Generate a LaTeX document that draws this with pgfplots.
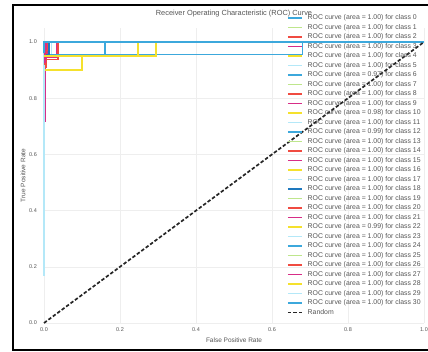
\documentclass[border=0pt]{standalone}
\usepackage{pgfplots}
\pgfplotsset{compat=1.18}
\usepackage{fontspec}
\setmainfont{Liberation Sans}
\definecolor{cA}{RGB}{60,168,220}
\definecolor{cB}{RGB}{190,230,140}
\definecolor{cC}{RGB}{240,75,65}
\definecolor{cD}{RGB}{215,45,135}
\definecolor{cE}{RGB}{245,225,45}
\definecolor{cF}{RGB}{180,232,248}
\definecolor{cG}{RGB}{30,120,190}
\definecolor{txt}{RGB}{85,85,85}
\definecolor{gridc}{RGB}{238,238,238}
\begin{document}
\begin{tikzpicture}[x=1pt,y=1pt]
\useasboundingbox (0,0) rectangle (428,351);
\draw[line width=2pt] (12.5,1.5) rectangle (445,345.5);
\begin{axis}[
  at={(44pt,28pt)}, anchor=south west,
  scale only axis, width=380pt, height=295.05pt,
  xmin=0, xmax=1, ymin=0, ymax=1.05,
  clip=false,
  axis line style={draw=none},
  major tick style={draw=none},
  xtick={0,0.2,0.4,0.6,0.8,1.0},
  ytick={0,0.2,0.4,0.6,0.8,1.0},
  xticklabels={0.0,0.2,0.4,0.6,0.8,1.0},
  yticklabels={0.0,0.2,0.4,0.6,0.8,1.0},
  grid=major, major grid style={gridc, line width=0.5pt},
  tick label style={font=\fontsize{5.5}{6}\selectfont, text=txt},
  every x tick label/.append style={anchor=center, yshift=-7pt},
  every y tick label/.append style={anchor=center, xshift=-11pt},
  title={Receiver Operating Characteristic (ROC) Curve},
  title style={font=\fontsize{7.4}{8}\selectfont, text=txt, at={(rel axis cs:0.5,1)}, anchor=center, yshift=8pt},
  xlabel={False Positive Rate},
  xlabel style={font=\fontsize{6.5}{7}\selectfont, text=txt, at={(rel axis cs:0.5,0)}, anchor=center, yshift=-17pt},
  ylabel={True Positive Rate},
  ylabel style={font=\fontsize{6.5}{7}\selectfont, text=txt, at={(rel axis cs:0,0.5)}, anchor=center, yshift=21pt},
  no markers,
  every axis plot/.append style={line width=1.7pt},
  legend style={at={(0.6395,1.0498)}, anchor=north west, draw=none, fill=none,
    inner sep=0pt, outer sep=0pt, row sep=0pt,
    font=\fontsize{6.9}{7}\selectfont, text=txt,
    nodes={inner sep=0pt, text height=6.5pt, text depth=3pt},
    /tikz/every odd column/.append style={column sep=5pt}},
  legend cell align=left,
  legend image code/.code={\draw[#1] (0pt,0pt) -- (14pt,0pt);},
]
\addplot[cA] coordinates {(0,0.96)(0,1)(1,1)};
\addlegendentry{ROC curve (area = 1.00) for class 0}
\addplot[cB] coordinates {(0,0.95)(0.005,0.95)(0.005,1)(1,1)};
\addlegendentry{ROC curve (area = 1.00) for class 1}
\addplot[cC] coordinates {(0,0.938)(0.037,0.938)(0.037,1)(1,1)};
\addlegendentry{ROC curve (area = 1.00) for class 2}
\addplot[cD] coordinates {(0,0.72)(0.004,0.72)(0.004,0.95)(0.008,0.95)(0.008,1)(1,1)};
\addlegendentry{ROC curve (area = 1.00) for class 3}
\addplot[cE] coordinates {(0,0.96)(0,1)(1,1)};
\addlegendentry{ROC curve (area = 1.00) for class 4}
\addplot[cF] coordinates {(0,0.93)(0,1)(1,1)};
\addlegendentry{ROC curve (area = 1.00) for class 5}
\addplot[cA] coordinates {(0,0.955)(0.68,0.955)(0.68,1)(1,1)};
\addlegendentry{ROC curve (area = 0.97) for class 6}
\addplot[cB] coordinates {(0,0.96)(0,1)(1,1)};
\addlegendentry{ROC curve (area = 1.00) for class 7}
\addplot[cC] coordinates {(0,0.91)(0.005,0.91)(0.005,0.97)(0.01,0.97)(0.01,1)(1,1)};
\addlegendentry{ROC curve (area = 1.00) for class 8}
\addplot[cD] coordinates {(0,0.945)(0.033,0.945)(0.033,1)(1,1)};
\addlegendentry{ROC curve (area = 1.00) for class 9}
\addplot[cE] coordinates {(0,0.9)(0.1,0.9)(0.1,0.95)(0.295,0.95)(0.295,1)(1,1)};
\addlegendentry{ROC curve (area = 0.98) for class 10}
\addplot[cF] coordinates {(0,0.167)(0,0.955)(0.02,0.955)(0.02,1)(1,1)};
\addlegendentry{ROC curve (area = 1.00) for class 11}
\addplot[cA] coordinates {(0,0.955)(0.16,0.955)(0.16,1)(1,1)};
\addlegendentry{ROC curve (area = 0.99) for class 12}
\addplot[cB] coordinates {(0,0.96)(0,1)(1,1)};
\addlegendentry{ROC curve (area = 1.00) for class 13}
\addplot[cC] coordinates {(0,0.95)(0.003,0.95)(0.003,1)(1,1)};
\addlegendentry{ROC curve (area = 1.00) for class 14}
\addplot[cD] coordinates {(0,0.96)(0,1)(1,1)};
\addlegendentry{ROC curve (area = 1.00) for class 15}
\addplot[cE] coordinates {(0,0.95)(0.004,0.95)(0.004,1)(1,1)};
\addlegendentry{ROC curve (area = 1.00) for class 16}
\addplot[cF] coordinates {(0,0.96)(0,1)(1,1)};
\addlegendentry{ROC curve (area = 1.00) for class 17}
\addplot[cG] coordinates {(0,0.955)(0.013,0.955)(0.013,1)(1,1)};
\addlegendentry{ROC curve (area = 1.00) for class 18}
\addplot[cB] coordinates {(0,0.96)(0,1)(1,1)};
\addlegendentry{ROC curve (area = 1.00) for class 19}
\addplot[cC] coordinates {(0,0.92)(0.003,0.92)(0.003,1)(1,1)};
\addlegendentry{ROC curve (area = 1.00) for class 20}
\addplot[cD] coordinates {(0,0.93)(0.002,0.93)(0.002,1)(1,1)};
\addlegendentry{ROC curve (area = 1.00) for class 21}
\addplot[cE] coordinates {(0,0.95)(0.247,0.95)(0.247,1)(1,1)};
\addlegendentry{ROC curve (area = 0.99) for class 22}
\addplot[cF] coordinates {(0,0.96)(0,1)(1,1)};
\addlegendentry{ROC curve (area = 1.00) for class 23}
\addplot[cA] coordinates {(0,0.96)(0,1)(1,1)};
\addlegendentry{ROC curve (area = 1.00) for class 24}
\addplot[cB] coordinates {(0,0.96)(0,1)(1,1)};
\addlegendentry{ROC curve (area = 1.00) for class 25}
\addplot[cC] coordinates {(0,0.96)(0,1)(1,1)};
\addlegendentry{ROC curve (area = 1.00) for class 26}
\addplot[cD] coordinates {(0,0.96)(0,1)(1,1)};
\addlegendentry{ROC curve (area = 1.00) for class 27}
\addplot[cE] coordinates {(0,0.96)(0,1)(1,1)};
\addlegendentry{ROC curve (area = 1.00) for class 28}
\addplot[cF] coordinates {(0,0.96)(0,1)(1,1)};
\addlegendentry{ROC curve (area = 1.00) for class 29}
\addplot[cA] coordinates {(0,0.96)(0,1)(1,1)};
\addlegendentry{ROC curve (area = 1.00) for class 30}
\addplot[black!85, dash pattern=on 3.5pt off 2pt] coordinates {(0,0)(1,1)};
\addlegendentry{Random}
\end{axis}
\end{tikzpicture}
\end{document}
